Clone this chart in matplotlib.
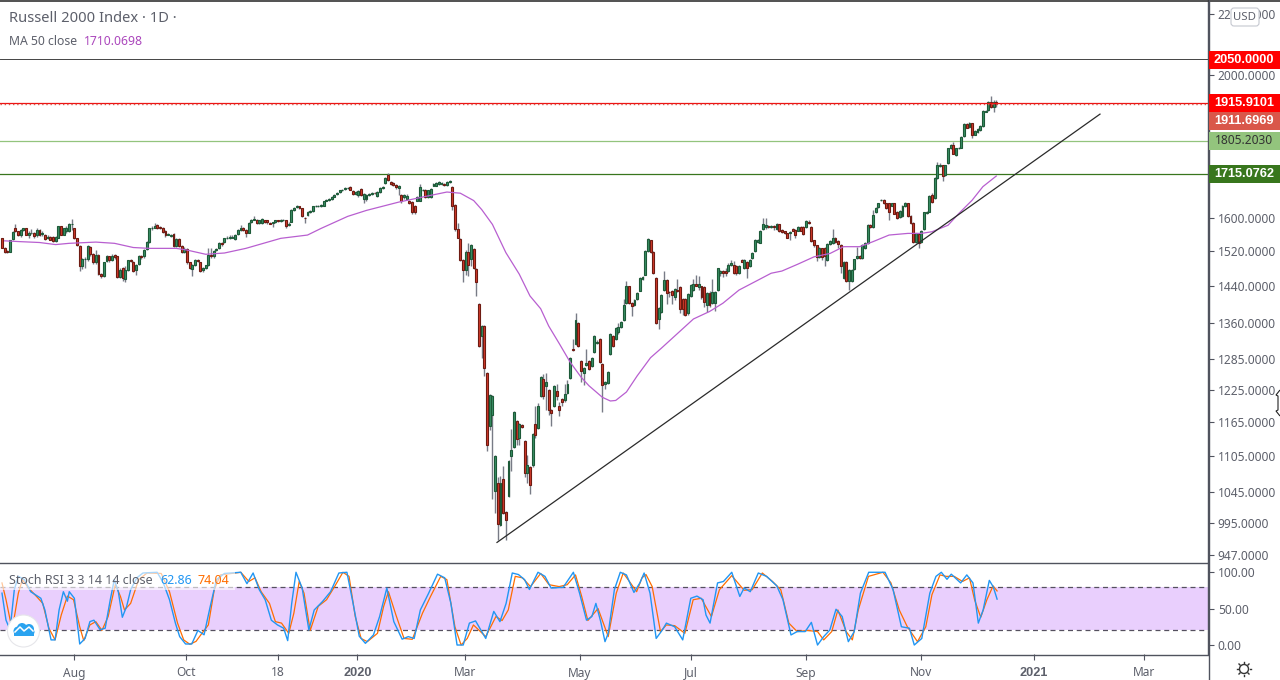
import matplotlib
matplotlib.use('Agg')
import matplotlib.pyplot as plt
from matplotlib.patches import Rectangle, Circle, FancyBboxPatch, Polygon

plt.rcParams['font.family'] = ['Noto Sans', 'DejaVu Sans']

# Daily candles
opens = [
    1551,1529,1521,1519,1549,1575,1569,1560,1572,1575,
    1559,1563,1565,1559,1571,1561,1559,1551,1555,1555,
    1545,1553,1580,1560,1569,1569,1585,1575,1551,1533,
    1486,1502,1502,1531,1513,1494,1512,1468,1463,1497,
    1508,1500,1512,1508,1461,1482,1455,1476,1499,1495,
    1476,1491,1510,1508,1525,1543,1575,1577,1583,1579,
    1577,1569,1560,1557,1561,1533,1549,1533,1519,1525,
    1494,1478,1489,1500,1494,1476,1480,1487,1512,1508,
    1523,1527,1541,1543,1551,1551,1553,1549,1561,1572,
    1577,1571,1565,1591,1597,1597,1589,1589,1595,1595,
    1589,1589,1591,1595,1593,1595,1595,1583,1592,1621,
    1628,1630,1625,1602,1608,1616,1618,1630,1631,1631,
    1632,1645,1647,1649,1655,1662,1666,1671,1675,1677,
    1680,1669,1662,1660,1675,1650,1648,1660,1662,1665,
    1658,1667,1677,1690,1713,1693,1690,1685,1677,1660,
    1653,1650,1644,1641,1632,1645,1645,1671,1673,1654,
    1654,1684,1684,1688,1688,1688,1686,1693,
    1679,1633,1573,1549,1499,1476,1519,1502,1525,1478,
    1400,1332,1353,1258,1158,1178,1046,1059,992,1067,
    1013,1039,1105,1121,1167,1137,1160,1131,1076,1086,
    1089,1162,1154,1214,1245,1233,1225,1187,1195,1222,
    1195,1207,1205,1219,1248,1306,1316,1359,1281,1258,
    1273,1281,1271,1300,1318,1327,1276,1237,1238,1296,
    1332,1326,1341,1352,1365,1402,1439,1402,1399,1411,
    1430,1456,1466,1521,1546,1519,1459,1369,
    1383,1432,1453,1427,1429,1416,1432,1437,1412,1412,
    1380,1418,1431,1445,1437,1439,1437,1398,1424,1402,
    1403,1432,1469,1473,1473,1473,1488,1489,1485,1469,
    1500,1481,1496,1485,1505,1521,1543,1541,1573,1579,
    1581,1579,1581,1573,1585,1571,1568,1563,1563,1573,
    1571,1570,1578,1578,1578,1592,1578,1546,1534,1506,
    1527,1527,1499,1538,1540,1552,1545,1535,1458,1495,
    1451,1451,1478,1504,1508,1504,1527,1540,1584,1579,
    1615,1629,1646,1647,1638,1638,1632,1638,1616,
    1603,1606,1630,1638,1606,1589,1542,1561,1542,1574,
    1614,1617,1659,1652,1704,1735,1738,1711,1744,1784,
    1793,1765,1784,1786,1819,1853,1845,1855,1823,1829,
    1835,1848,1889,1894,1917,1902,1919,
]
closes = [
    1529,1519,1518,1547,1567,1569,1560,1572,1575,1559,
    1563,1565,1557,1571,1559,1563,1549,1555,1548,1545,
    1555,1580,1560,1575,1577,1585,1587,1551,1534,1486,
    1502,1502,1533,1513,1494,1512,1468,1463,1494,1510,
    1499,1510,1506,1461,1476,1457,1476,1499,1497,1474,
    1487,1510,1506,1523,1543,1575,1577,1581,1575,1577,
    1567,1559,1561,1559,1533,1549,1533,1519,1525,1494,
    1481,1488,1500,1498,1474,1480,1487,1512,1508,1521,
    1525,1541,1537,1551,1553,1555,1555,1559,1572,1577,
    1571,1563,1589,1595,1598,1589,1595,1599,1591,1591,
    1587,1590,1595,1593,1595,1595,1581,1587,1621,1625,
    1630,1625,1606,1601,1616,1618,1630,1631,1632,1633,
    1643,1646,1648,1654,1660,1664,1671,1673,1677,1677,
    1673,1662,1667,1669,1660,1662,1660,1662,1664,1664,
    1667,1677,1680,1703,1699,1688,1685,1680,1684,1643,
    1660,1658,1639,1616,1616,1655,1680,1673,1654,1671,
    1675,1688,1690,1693,1690,1686,1693,1695,
    1631,1573,1553,1500,1476,1519,1488,1535,1480,1449,
    1312,1353,1268,1125,1215,1213,1105,994,1060,1012,
    1001,1097,1115,1183,1135,1161,1157,1076,1089,1057,
    1143,1142,1194,1250,1214,1240,1187,1182,1233,1214,
    1187,1203,1218,1237,1288,1303,1365,1312,1262,1268,
    1277,1266,1288,1332,1320,1280,1235,1240,1260,1337,
    1312,1349,1351,1361,1399,1439,1402,1397,1409,1424,
    1458,1460,1520,1549,1519,1469,1360,1391,
    1420,1453,1425,1426,1419,1433,1429,1390,1389,1377,
    1422,1442,1445,1441,1445,1416,1405,1424,1398,1427,
    1427,1480,1473,1470,1470,1489,1492,1469,1469,1485,
    1496,1500,1482,1500,1517,1547,1547,1570,1586,1583,
    1579,1580,1579,1587,1569,1567,1563,1553,1567,1570,
    1559,1578,1570,1562,1594,1589,1545,1536,1507,1527,
    1507,1508,1538,1544,1552,1543,1537,1485,1495,1452,
    1476,1476,1501,1509,1505,1535,1540,1583,1579,1608,
    1627,1638,1647,1638,1625,1616,1638,1612,1600,
    1619,1631,1638,1606,1589,1542,1563,1540,1569,1615,
    1617,1657,1642,1705,1738,1738,1709,1738,1784,1793,
    1770,1784,1786,1816,1853,1843,1855,1821,1833,1838,
    1848,1892,1892,1917,1902,1919,1912,
]
highs = [
    1553,1530,1522,1548,1568,1587,1570,1574,1577,1576,
    1568,1574,1567,1575,1573,1570,1561,1558,1556,1557,
    1557,1582,1582,1577,1580,1588,1599,1577,1553,1535,
    1504,1506,1535,1533,1515,1523,1514,1470,1496,1512,
    1510,1513,1514,1510,1480,1484,1485,1500,1503,1497,
    1490,1512,1512,1526,1545,1577,1580,1589,1586,1582,
    1579,1571,1564,1561,1563,1552,1551,1535,1530,1527,
    1496,1490,1503,1502,1496,1484,1489,1527,1527,1524,
    1528,1543,1543,1553,1556,1558,1558,1562,1574,1583,
    1579,1573,1591,1598,1606,1599,1597,1601,1597,1597,
    1591,1592,1597,1597,1598,1599,1597,1590,1623,1628,
    1634,1632,1627,1603,1618,1620,1632,1633,1634,1635,
    1645,1649,1651,1656,1662,1666,1673,1675,1679,1679,
    1682,1671,1669,1671,1677,1664,1662,1664,1666,1668,
    1669,1679,1683,1706,1717,1695,1692,1687,1686,1663,
    1663,1661,1646,1643,1634,1657,1688,1676,1675,1673,
    1677,1691,1692,1696,1693,1690,1696,1698,
    1682,1635,1589,1551,1501,1522,1541,1537,1527,1480,
    1402,1355,1355,1260,1217,1215,1107,1069,1071,1088,
    1015,1099,1152,1185,1169,1163,1161,1133,1107,1088,
    1145,1194,1200,1252,1256,1258,1227,1189,1235,1237,
    1202,1209,1237,1244,1290,1325,1380,1361,1283,1270,
    1306,1283,1290,1334,1323,1329,1278,1243,1262,1339,
    1334,1351,1359,1364,1412,1452,1441,1404,1411,1426,
    1460,1462,1522,1551,1548,1521,1461,1393,
    1422,1473,1455,1429,1431,1435,1455,1439,1414,1414,
    1424,1444,1456,1466,1463,1441,1439,1426,1430,1455,
    1429,1482,1476,1476,1480,1492,1500,1497,1487,1487,
    1502,1503,1498,1503,1519,1549,1549,1572,1600,1600,
    1584,1583,1584,1589,1587,1573,1570,1565,1569,1575,
    1573,1580,1580,1580,1596,1596,1580,1548,1536,1530,
    1529,1530,1540,1546,1574,1554,1547,1537,1497,1497,
    1478,1478,1503,1531,1511,1537,1543,1585,1586,1620,
    1629,1640,1650,1649,1640,1640,1640,1640,1618,
    1621,1633,1641,1640,1608,1591,1565,1563,1571,1617,
    1619,1660,1665,1707,1747,1745,1740,1740,1786,1796,
    1802,1786,1788,1820,1856,1855,1858,1857,1835,1841,
    1851,1895,1895,1920,1936,1925,1924,
]
lows = [
    1527,1517,1516,1518,1548,1566,1556,1555,1570,1558,
    1552,1561,1553,1555,1556,1557,1547,1549,1546,1542,
    1543,1551,1558,1558,1565,1566,1572,1549,1532,1474,
    1478,1480,1498,1510,1490,1490,1465,1459,1460,1494,
    1496,1498,1503,1459,1457,1452,1450,1473,1494,1472,
    1466,1488,1502,1505,1522,1541,1572,1575,1573,1574,
    1565,1555,1558,1554,1530,1531,1530,1515,1516,1490,
    1478,1463,1486,1496,1472,1472,1478,1485,1505,1505,
    1520,1525,1533,1540,1549,1549,1551,1547,1559,1570,
    1569,1555,1563,1589,1595,1587,1587,1587,1589,1585,
    1585,1579,1589,1591,1590,1593,1577,1580,1590,1619,
    1626,1623,1604,1589,1606,1614,1616,1628,1629,1629,
    1630,1643,1645,1647,1653,1660,1664,1669,1673,1675,
    1671,1660,1660,1655,1658,1640,1645,1657,1660,1662,
    1655,1665,1675,1688,1697,1686,1683,1676,1660,1640,
    1650,1648,1637,1610,1612,1643,1643,1669,1652,1652,
    1652,1682,1682,1686,1686,1684,1684,1691,
    1621,1570,1551,1498,1449,1464,1463,1485,1478,1418,
    1310,1288,1252,1113,1150,1033,1012,970,991,1010,
    970,1037,1080,1119,1125,1125,1155,1069,1059,1041,
    1087,1137,1152,1212,1208,1187,1178,1158,1193,1205,
    1177,1195,1203,1217,1246,1301,1314,1310,1241,1234,
    1271,1264,1269,1298,1316,1278,1184,1227,1236,1294,
    1310,1324,1337,1349,1363,1400,1400,1375,1397,1409,
    1428,1454,1464,1519,1517,1467,1358,1347,
    1381,1430,1401,1415,1400,1410,1427,1381,1376,1375,
    1377,1415,1429,1439,1431,1412,1394,1384,1394,1400,
    1385,1430,1463,1460,1463,1471,1486,1467,1465,1467,
    1494,1479,1457,1483,1503,1519,1541,1539,1571,1574,
    1577,1575,1572,1571,1567,1565,1561,1551,1548,1568,
    1552,1568,1568,1560,1576,1587,1543,1530,1498,1504,
    1500,1485,1497,1536,1538,1541,1527,1469,1456,1450,
    1432,1449,1476,1502,1503,1502,1525,1538,1577,1577,
    1613,1627,1644,1636,1623,1597,1630,1610,1598,
    1601,1604,1628,1604,1587,1540,1540,1527,1540,1572,
    1612,1615,1640,1650,1702,1733,1695,1709,1742,1782,
    1768,1763,1782,1784,1817,1841,1843,1812,1821,1827,
    1833,1846,1887,1892,1900,1887,1902,
]

# MA 50 readings
ma_bars = [1,7,14,20,25,35,42,49,55,65,69,76,83,91,104,114,119,129,136,148,159,166,171,176,179,183,
           188,193,197,201,204,208,212,216,219,224,227,229,233,237,242,246,258,264,269,275,282,287,
           291,297,303,309,314,320,325,331,338,343,347,353,357,362,366,371]
ma_vals = [1545,1543,1541,1536,1539,1542,1539,1529,1527,1527,1523,1513,1516,1527,1551,1559,1575,1605,
           1620,1641,1657,1667,1664,1645,1622,1585,1517,1467,1418,1390,1353,1316,1279,1250,1233,1211,
           1204,1205,1221,1252,1288,1307,1368,1384,1402,1431,1453,1469,1474,1490,1507,1515,1531,1531,
           1543,1559,1563,1563,1567,1583,1612,1646,1681,1709.07]

# Stoch RSI %K readings
k_bars = [0,1.5,3,4.6,6.1,8.4,10.7,14.5,16,18.3,19.8,21.3,22.9,24.4,25.1,27,29,31,32.8,34.3,36.6,38.5,
          40.4,41.9,43.4,44.9,46.5,48,50.3,52.6,57.9,60.2,62.5,64.7,66.3,68.5,70.8,73.1,75.4,77.7,80,83,
          89.1,91.4,93.7,96,98.2,100.5,102.8,105.1,106.6,108.1,109.7,112,114.5,116.5,119.6,122.6,125.7,
          128.7,131,133.3,135.6,138.6,140.9,143.6,146.2,149.3,151.6,153.8,156.1,159.2,162.5,165.2,167.5,
          169.8,172.1,174.4,176.7,180.5,183.5,185.8,188.1,190.4,192.7,195,196.8,200,202.6,204.9,209.4,
          213.2,215.5,218.1,220.1,221.6,223.4,225,226.2,228.5,230.7,233,235.8,238,239.6,241.8,244.1,
          246.4,247.9,251,254,257,259.3,261.6,262.7,264.2,267,269.2,272.3,275.3,276.9,279.2,282.2,285.3,
          289.1,291.4,294.4,296.7,299.7,302,304.3,306.6,308.9,311.2,313.5,315.8,318,320.3,323.4,329.5,
          332.5,335.6,338.6,340.4,343.2,346.2,348.5,350.5,352.6,354.2,357.7,360,362.3,364.3,366.1,368.4,
          369.9,371.3]
k_vals = [71,34,21,76,94,89.5,73,64,48,7,7,48,73,60,73,64,1.4,9,32,34,21,23,
          62,89.5,73,38,52.8,75.7,92,98.6,99.6,85,62,30,11.5,1.4,1.4,20,14,52.8,89.5,98,
          99.6,84,98.6,75.7,62,34,27.5,23,6,57,99.6,78,20.6,48,59.6,73,98.6,
          99.6,57,12,2.3,13.8,39,78,32,8,11.5,9,48,71,97,92,57,
          0,0,30,33,9,46,32,57,98.6,96.5,89.5,76,99.6,94,78,79,
          99.6,71,34,39,57,32,4.6,16,75.7,99.6,96,72,85,98.6,71,9,
          20.6,30,25,7,64,67,62,41,30,85,87,99.6,66.5,78,73,98.6,94,
          81,62,13.8,18.4,18.4,31,0,11.5,20.6,49,39,4.6,18.4,71,99.6,99.6,
          75.7,25,23,0,9,71,94,99.6,90,97,85,96,85,30,48,88.5,
          79.4,62.86]

# Stoch RSI %D readings
d_bars = [0,1.5,3.8,6.1,7.6,9.9,13,15.2,17.5,19.8,22.1,24.4,26.7,29,30.5,32.8,35,37.3,39.6,42.3,44.2,
          45.7,48,51,54.1,59.4,62.5,65.5,67.8,70.1,72.4,74.6,77,79.2,81.5,89.1,92.1,94.4,96.7,99.8,102,
          104.3,107,108.9,110.9,112.7,115,118,121.1,124.1,127.2,129.5,131.8,134,136.3,140.1,142.4,144.2,
          147,150,153.1,156.9,159.9,163.7,166,169,171.3,173.6,175.9,180.5,184.3,186.6,188.9,191.5,194.2,
          197.2,201,204.1,207.9,210.9,214,216.3,218.6,222.4,226.2,229.2,231.8,234.5,236.8,238.8,240.3,
          242.6,245.7,247.9,251,254.8,257.9,260.9,264.7,267.7,272.3,276.9,279.9,283.7,287.5,290.6,293.6,
          296.7,300.5,304.3,306.6,309.6,311.9,315,317.3,319.5,323.3,328.7,331.7,334.8,337.8,341.6,344.7,
          347,350,352.3,355.3,358.4,361,362.9,365.2,367.5,369.8,371.3]
d_vals = [85,62,20.6,71,89.5,78,66,57,23,7,41,67,62,25,6,27.5,32,20,39,83,66.5,
          48,57,89.5,98.6,98,73,30,7,1,5,16,27.5,75.7,96,99.6,87,92,73,57,32,
          30,16,43.6,87,71,20,53,62,80,99.6,94,39,9,4.6,16,52.8,73,
          41,9,7.8,43.6,66.5,94,89.5,25,0,9,27.5,11.5,39,33.5,48,94,92,
          80,98,82.6,80,82.6,96,66.5,33.5,50,11.5,71,98.6,85,73,92,96.5,
          80,18.4,27.5,26.5,16,62,64,39,75.7,95,75,75.7,98.6,87,75.7,30,
          18.4,20,18.4,7,18.4,48,18.4,7,48,94,99.6,85,48,25,4.6,25,
          69,96,94,94,87,92,62,38,62,81,74.04]

# Drawn levels and trend line
level_2050 = 2050.0
level_close = 1915.9101
level_last = 1911.6969
level_1805 = 1805.2030
level_1715 = 1715.0762
trend_bars = [184.7, 409.7]
trend_prices = [966, 1882]

# Axis labels
price_ticks = [2200, 2000, 1600, 1520, 1440, 1360, 1285, 1225, 1165, 1105, 1045, 995, 947]
stoch_ticks = [100, 50, 0]
date_bars = [26.9, 68.7, 102.8, 132.6, 172.6, 215.5, 257, 300, 343, 385, 426]
date_labels = ['Aug', 'Oct', '18', '2020', 'Mar', 'May', 'Jul', 'Sep', 'Nov', '2021', 'Mar']

W, H = 1280, 680
BORDER = '#50535e'
TEXT = '#5d606b'
UP, UP_EDGE = '#3a8f66', '#1d5a38'
DOWN, DOWN_EDGE = '#d23a2a', '#6e1b12'
WICK = '#787b86'
BOLD_FONT = 'Liberation Sans'


def panel(top, bottom):
    return fig.add_axes([0, 1 - bottom / H, 1208 / W, (bottom - top) / H])


fig = plt.figure(figsize=(W / 100, H / 100), dpi=100, facecolor='white')
ax = panel(0, 562)
ax2 = panel(563, 654)

x_left, x_right = -0.746, 450
bars = range(len(closes))

# price panel
ax.set_yscale('log')
ax.set_xlim(x_left, x_right)
ax.set_ylim(937, 2248)
ax.vlines(bars, lows, highs, color=WICK, lw=1, zorder=2)
for i, (o, c) in enumerate(zip(opens, closes)):
    up = c >= o
    ax.bar(i, max(abs(c - o), 1), bottom=min(o, c), width=0.72, color=UP if up else DOWN,
           edgecolor=UP_EDGE if up else DOWN_EDGE, linewidth=0.8, zorder=3)
ax.plot(ma_bars, ma_vals, color='#b85fd0', lw=0.9, zorder=4)
ax.plot(trend_bars, trend_prices, color='#2a2a2a', lw=0.9, zorder=5)
ax.axhline(level_2050, color='#444444', lw=0.7, zorder=1)
ax.axhline(level_close, color='#ee1111', lw=0.9, zorder=4)
ax.axhline(level_last, color='#d9574a', lw=1, ls=(0, (1, 2)), zorder=4)
ax.axhline(level_1805, color='#93c47d', lw=0.9, zorder=1)
ax.axhline(level_1715, color='#38761d', lw=0.9, zorder=1)
ax.yaxis.tick_right()
ax.set_yticks(price_ticks)
ax.set_yticklabels(['%.4f' % t for t in price_ticks])
ax.minorticks_off()
ax.tick_params(axis='y', length=4, width=0.8, color=BORDER, labelcolor=TEXT, labelsize=8.6, pad=3)
ax.set_xticks([])

# stoch panel
ax2.set_xlim(x_left, x_right)
ax2.set_ylim(-12.3, 112.3)
ax2.axhspan(20, 80, color='#e9cffd', lw=0, zorder=1)
ax2.axhline(80, color='#55505f', lw=0.9, ls=(0, (4, 3)), zorder=2)
ax2.axhline(20, color='#55505f', lw=0.9, ls=(0, (4, 3)), zorder=2)
ax2.plot(d_bars, d_vals, color='#ff6d00', lw=0.9, zorder=3)
ax2.plot(k_bars, k_vals, color='#2196f3', lw=1, zorder=4)
ax2.yaxis.tick_right()
ax2.set_yticks(stoch_ticks)
ax2.set_yticklabels(['%.2f' % t for t in stoch_ticks])
ax2.tick_params(axis='y', length=4, width=0.8, color=BORDER, labelcolor=TEXT, labelsize=8.6, pad=3)
ax2.set_xticks(date_bars)
ax2.set_xticklabels(date_labels)
ax2.tick_params(axis='x', length=4, width=0.8, color=BORDER, labelcolor=TEXT, labelsize=8.6, pad=5)
for tick, label in zip(ax2.get_xticklabels(), date_labels):
    if label.startswith('20'):
        tick.set_fontfamily(BOLD_FONT)
        tick.set_fontweight('bold')
        tick.set_fontsize(9.2)

for a in (ax, ax2):
    for side in a.spines:
        a.spines[side].set_visible(False)
    a.spines['right'].set_visible(True)
    a.spines['right'].set_color(BORDER)
    a.spines['right'].set_linewidth(1)
    a.patch.set_alpha(0)

# overlay in figure pixels for tags, legends and icons
ov = fig.add_axes([0, 0, 1, 1], facecolor='none')
ov.set_xlim(0, W)
ov.set_ylim(H, 0)
ov.axis('off')
ov.plot([0, W], [0.5, 0.5], color='#333333', lw=1.2)
ov.plot([0, 1208], [562.5, 562.5], color=BORDER, lw=1)
ov.plot([0, 1208], [654.5, 654.5], color=BORDER, lw=1)
ov.plot([1208.5, 1208.5], [0, H], color=BORDER, lw=1)


def tag(center, label, face, fg='white', weight='bold'):
    ov.add_patch(Rectangle((1208.5, center - 9), 71.5, 18, facecolor=face, edgecolor='none', zorder=6))
    family = BOLD_FONT if weight == 'bold' else 'Noto Sans'
    ov.text(1244, center, label, color=fg, ha='center', va='center', fontsize=9.2 if weight == 'bold' else 8.6,
            fontfamily=family, fontweight=weight, zorder=7)


tag(60, '2050.0000', '#ff0000')
tag(103, '1915.9101', '#ff0000')
tag(121, '1911.6969', '#d9574a')
tag(141, '1805.2030', '#93c47d', fg='#333333', weight='normal')
tag(174, '1715.0762', '#38761d')

# currency button
ov.add_patch(FancyBboxPatch((1231, 8), 28, 18, boxstyle='round,pad=0,rounding_size=3',
                            facecolor='white', edgecolor='#c5c8d0', lw=0.8, zorder=6))
ov.text(1245, 17, 'USD', color=TEXT, ha='center', va='center', fontsize=8.2, zorder=7)

# legends
ov.text(9, 18, 'Russell 2000 Index · 1D ·', color=TEXT, va='center', fontsize=10.6)
ov.text(9, 41.5, 'MA 50 close', color=TEXT, va='center', fontsize=8.8)
ov.text(84, 41.5, '1710.0698', color='#ab47bc', va='center', fontsize=8.8)
ov.add_patch(Rectangle((0, 569), 235, 21, facecolor='white', alpha=0.62, edgecolor='none', zorder=5))
ov.text(9, 580, 'Stoch RSI 3 3 14 14 close', color=TEXT, va='center', fontsize=9, zorder=6)
ov.text(160, 580, '62.86', color='#2196f3', va='center', fontsize=9, zorder=6)
ov.text(198, 580, '74.04', color='#ff6d00', va='center', fontsize=9, zorder=6)

# logo badge
ov.add_patch(Circle((23.5, 631), 16, facecolor='white', edgecolor='#e6e6ea', lw=0.8, zorder=6))
for cx, cy, r in [(18, 631, 4.5), (22, 628, 5), (29, 629, 5), (31, 632, 3.5)]:
    ov.add_patch(Circle((cx, cy), r, facecolor='#2aa3f0', edgecolor='none', zorder=7))
ov.add_patch(Rectangle((14, 631), 20, 4.5, facecolor='#2aa3f0', edgecolor='none', zorder=7))
ov.plot([15, 20, 24, 29, 33], [632, 627, 631, 627, 631], color='white', lw=1.1, zorder=8)

# settings icon
ov.add_patch(Circle((1244, 669), 4.5, facecolor='white', edgecolor='#333333', lw=1, zorder=6))
for dx, dy in [(0, -7), (0, 7), (-7, 0), (7, 0), (-5, -5), (5, -5), (-5, 5), (5, 5)]:
    ov.plot([1244 + dx * 0.8, 1244 + dx], [669 + dy * 0.8, 669 + dy], color='#333333', lw=1, zorder=6)

# resize cursor at the right edge
ov.add_patch(Polygon([(1280, 390), (1276, 395), (1278, 396), (1278, 410), (1276, 411), (1280, 416)],
                     closed=False, facecolor='white', edgecolor='#222222', lw=0.8, zorder=7))

fig.savefig('out.png', dpi=100, facecolor='white')
